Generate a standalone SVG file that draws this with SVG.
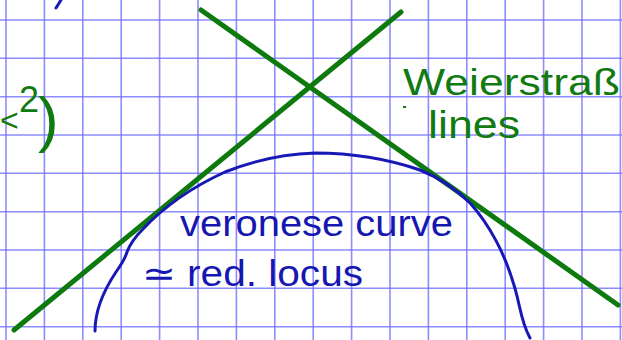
<svg xmlns="http://www.w3.org/2000/svg" width="622" height="340" viewBox="0 0 622 340">
<style>
.grid line{stroke:#7070ff;stroke-width:1.6;opacity:0.8}
.green{stroke:#0e7a0e;stroke-width:5;stroke-linecap:round;fill:none}
.blue{stroke:#1818b4;stroke-width:3;stroke-linecap:round;fill:none}
.tg{fill:#117a11;font-family:"Liberation Sans",Arial,sans-serif}
.tb{fill:#1616b0;font-family:"Liberation Sans",Arial,sans-serif}
</style>
<rect width="622" height="340" fill="#ffffff"/>
<g class="grid">
<line x1="6" y1="0" x2="6" y2="340"/>
<line x1="44.4" y1="0" x2="44.4" y2="340"/>
<line x1="82.8" y1="0" x2="82.8" y2="340"/>
<line x1="121.2" y1="0" x2="121.2" y2="340"/>
<line x1="159.6" y1="0" x2="159.6" y2="340"/>
<line x1="198" y1="0" x2="198" y2="340"/>
<line x1="236.4" y1="0" x2="236.4" y2="340"/>
<line x1="274.8" y1="0" x2="274.8" y2="340"/>
<line x1="313.2" y1="0" x2="313.2" y2="340"/>
<line x1="351.6" y1="0" x2="351.6" y2="340"/>
<line x1="390" y1="0" x2="390" y2="340"/>
<line x1="428.4" y1="0" x2="428.4" y2="340"/>
<line x1="466.8" y1="0" x2="466.8" y2="340"/>
<line x1="505.2" y1="0" x2="505.2" y2="340"/>
<line x1="543.6" y1="0" x2="543.6" y2="340"/>
<line x1="582" y1="0" x2="582" y2="340"/>
<line x1="620.4" y1="0" x2="620.4" y2="340"/>
<line x1="0" y1="20" x2="622" y2="20"/>
<line x1="0" y1="58.3" x2="622" y2="58.3"/>
<line x1="0" y1="96.7" x2="622" y2="96.7"/>
<line x1="0" y1="135" x2="622" y2="135"/>
<line x1="0" y1="173.3" x2="622" y2="173.3"/>
<line x1="0" y1="211.7" x2="622" y2="211.7"/>
<line x1="0" y1="250" x2="622" y2="250"/>
<line x1="0" y1="288.3" x2="622" y2="288.3"/>
<line x1="0" y1="326.7" x2="622" y2="326.7"/>
</g>
<g id="weierstrass-lines">
<line class="green" x1="201" y1="10" x2="618" y2="305"/>
<line class="green" x1="14" y1="330" x2="401" y2="12"/>
</g>
<g id="veronese-curve">
<path class="blue" d="M95,331 C95,310 104,290 116,272 C121,265 125,259 127,252 C130,244 135,237 143,229 C162,209 190,188 225,172 C255,160 285,154 315,153 C350,153 385,158 420,170 C440,178 455,188 470,203 C490,225 505,255 513,282 C520,302 520,320 530,338"/>
<path class="blue" d="M56,8 L61,0"/>
</g>
<g id="labels">
<text class="tg" x="0" y="131" font-size="32">&lt;<tspan x="19" y="112" font-size="36">2</tspan><tspan x="38" y="140" font-size="62">)</tspan></text>
<text class="tg" x="403" y="95" font-size="36" textLength="217" lengthAdjust="spacingAndGlyphs">Weierstraß</text>
<path d="M403,107 L406,107" stroke="#117a11" stroke-width="2"/>
<text class="tg" x="428" y="138" font-size="38" textLength="92" lengthAdjust="spacingAndGlyphs">lines</text>
<text class="tb" x="180" y="236" font-size="36" textLength="273" lengthAdjust="spacingAndGlyphs">veronese curve</text>
<text class="tb" x="142" y="286" font-size="36" textLength="221" lengthAdjust="spacingAndGlyphs">≃ red. locus</text>
</g>
</svg>
